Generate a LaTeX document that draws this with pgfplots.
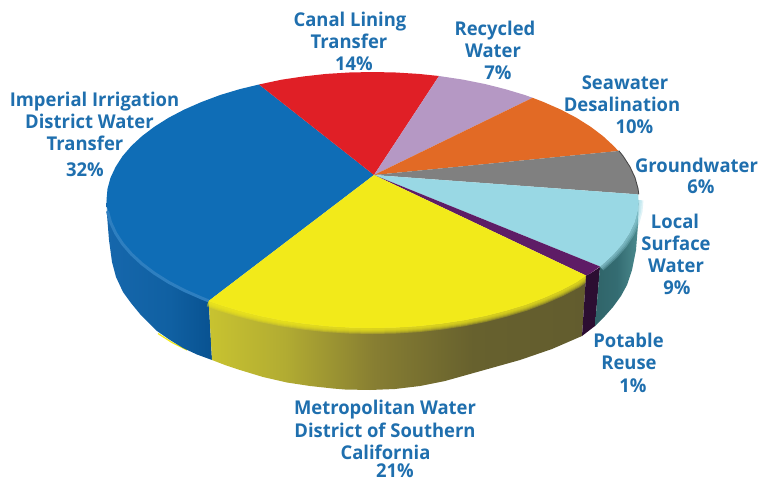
\documentclass[border=0pt]{standalone}
\usepackage{fontspec}
\setmainfont{Open Sans}[FakeStretch=0.97]
\usepackage{pgfplots}
\pgfplotsset{compat=1.18}

\definecolor{cblue}{RGB}{15,109,182}
\definecolor{cblue2}{RGB}{46,127,192}
\definecolor{cred}{RGB}{224,31,38}
\definecolor{clilac}{RGB}{181,152,196}
\definecolor{corange}{RGB}{226,106,37}
\definecolor{cgray}{RGB}{128,128,128}
\definecolor{clight}{RGB}{153,216,228}
\definecolor{cpurple}{RGB}{94,28,102}
\definecolor{cyellow}{RGB}{242,234,26}
\definecolor{ctext}{RGB}{31,111,174}
\definecolor{sb1}{RGB}{22,103,172}
\definecolor{sb2}{RGB}{16,96,162}
\definecolor{sb3}{RGB}{8,82,145}
\definecolor{sy1}{RGB}{200,195,48}
\definecolor{sy2}{RGB}{178,172,50}
\definecolor{sy3}{RGB}{135,126,50}
\definecolor{sy4}{RGB}{103,97,46}
\definecolor{sy5}{RGB}{98,92,46}
\definecolor{st1}{RGB}{48,100,105}
\definecolor{st2}{RGB}{52,108,114}
\definecolor{st3}{RGB}{75,138,142}

% stops sit between 25bp and 75bp, which is what gets stretched over the path
\pgfdeclarehorizontalshading{sideblue}{100bp}{
  color(0bp)=(sb1); color(25bp)=(sb1); color(55bp)=(sb2); color(75bp)=(sb3); color(100bp)=(sb3)}
\pgfdeclarehorizontalshading{sideyellow}{100bp}{
  color(0bp)=(sy1); color(25bp)=(sy1); color(35bp)=(sy2); color(47bp)=(sy3);
  color(60bp)=(sy4); color(75bp)=(sy5); color(100bp)=(sy5)}
\pgfdeclarehorizontalshading{sideteal}{100bp}{
  color(0bp)=(st1); color(25bp)=(st1); color(50bp)=(st2); color(75bp)=(st3); color(100bp)=(st3)}

\newcommand{\lab}[2]{\node[anchor=base,text=ctext,font=\fontsize{19}{19}\selectfont\bfseries,inner sep=0pt] at (axis cs:#1) {#2};}

\begin{document}
\begin{tikzpicture}
% a hidden axis adds nothing to the bounding box
\path[use as bounding box] (0,0) rectangle (758pt,482pt);
\begin{axis}[
  scale only axis,
  width=758pt,
  height=482pt,
  xmin=0, xmax=758,
  ymin=0, ymax=482,
  y dir=reverse,
  axis lines=none,
  clip=false,
]
% sides
\addplot[draw=cyellow,line width=1.2pt] coordinates {(158,333.5) (172,342.5) (187,350)};
\addplot[draw=none,shade,shading=sideblue] coordinates {
  (208.7,300.9) (201.5,298) (184.4,290.5) (168.7,282.3) (154.6,273.4) (142.1,264)
  (131.4,254.1) (122.5,243.8) (115.6,233.1) (110.5,222.2) (107.5,211.2) (106.5,200)
  (107,215) (109,240) (112,262) (116,277) (123,292) (131,303) (140,314) (157,331)
  (170,340) (183,348) (197,354.5) (212,360)} --cycle;
\addplot[draw=none,shade,shading=sideyellow] coordinates {
  (208.7,300.9) (219.9,304.9) (239.5,310.8) (260.1,316) (281.5,320.3) (303.7,323.6)
  (326.3,326.1) (349.3,327.5) (372.5,328) (395.7,327.5) (418.7,326.1) (441.3,323.6)
  (463.5,320.3) (484.9,316) (505.5,310.8) (525.1,304.9) (543.5,298) (560.6,290.5)
  (576.3,282.3) (586,275.5)
  (582,336) (552,349) (520,360) (495,367) (470,374) (445,381) (420,386) (395,389)
  (370,390) (345,389.5) (333,388.5) (310,386) (287,382.5) (263,377) (240,370)
  (225,365) (212,360)} --cycle;
% soft edge where the yellow top meets its side, stacked strokes
\pgfplotsinvokeforeach{12,10,8,6,4}{
\addplot[draw=cyellow,opacity=.28,line width=#1pt] coordinates {
  (208.7,300.9) (219.9,304.9) (239.5,310.8) (260.1,316) (281.5,320.3) (303.7,323.6)
  (326.3,326.1) (349.3,327.5) (372.5,328) (395.7,327.5) (418.7,326.1) (441.3,323.6)
  (463.5,320.3) (484.9,316) (505.5,310.8) (525.1,304.9) (543.5,298) (560.6,290.5)
  (576.3,282.3) (586,275.5)};
}
\addplot[draw=none,fill={rgb,255:red,44;green,14;blue,50}] coordinates {
  (586,275.5) (590.4,273.4) (600,267) (595,326) (582,336)} --cycle;
\addplot[draw=none,shade,shading=sideteal] coordinates {
  (600,266.5) (602.9,264) (613.6,254.1) (622.5,243.8) (629.4,233.1) (634.5,222.2)
  (637.5,211.2) (638.5,200)
  (638.5,205) (638,225) (636,250) (632,270) (627,285) (621,296) (613,307) (605,316) (595,326)} --cycle;
\pgfplotsinvokeforeach{10,7,4}{
\addplot[draw=clight,opacity=.3,line width=#1pt] coordinates {
  (600,266.5) (602.9,264) (613.6,254.1) (622.5,243.8) (629.4,233.1) (634.5,222.2)
  (637.5,211.2) (638.5,200)};
}
% dark rim on the far right of the grey slice
\addplot[draw={rgb,255:red,70;green,70;blue,70},line width=2pt] coordinates {
  (618.3,151) (622.5,156.2) (629.4,166.9) (634.5,177.8) (637.5,188.8) (638.2,194.4)};
% top face
\addplot[draw=none,fill=cblue] coordinates {
  (374,175) (208.7,300.9) (201.5,298) (184.4,290.5) (168.7,282.3) (154.6,273.4) (142.1,264)
  (131.4,254.1) (122.5,243.8) (115.6,233.1) (110.5,222.2) (107.5,211.2) (106.5,200)
  (107.5,188.8) (110.5,177.8) (115.6,166.9) (122.5,156.2) (131.4,145.9) (142.1,136)
  (154.6,126.6) (168.7,117.7) (184.4,109.5) (201.5,102) (219.9,95.1) (239.5,89.2) (259,84.5)} --cycle;
\addplot[draw=none,fill=cred] coordinates {
  (374,175) (259,84.5) (281.5,79.7) (303.7,76.4) (326.3,73.9) (349.3,72.5) (372.5,72)
  (395.7,72.5) (418.7,73.9) (439,76)} --cycle;
\addplot[draw=none,fill=clilac] coordinates {
  (374,175) (439,76) (463.5,79.7) (484.9,84) (505.5,89.2) (525.1,95.1) (532.6,97.8)} --cycle;
\addplot[draw=none,fill=corange] coordinates {
  (374,175) (532.6,97.8) (543.5,102) (560.6,109.5) (576.3,117.7) (590.4,126.6) (602.9,136)
  (613.6,145.9) (618.3,151)} --cycle;
\addplot[draw=none,fill=cgray] coordinates {
  (374,175) (618.3,151) (622.5,156.2) (629.4,166.9) (634.5,177.8) (637.5,188.8) (638.2,194.4)} --cycle;
\addplot[draw=none,fill=clight] coordinates {
  (374,175) (638.2,194.4) (638.5,200) (637.5,211.2) (634.5,222.2) (629.4,233.1) (622.5,243.8)
  (613.6,254.1) (602.9,264) (600,266.5)} --cycle;
\addplot[draw=none,fill=cpurple] coordinates {
  (374,175) (600,266.5) (590.4,273.4) (586,275.5)} --cycle;
\addplot[draw=none,fill=cyellow] coordinates {
  (374,175) (586,275.5) (576.3,282.3) (560.6,290.5) (543.5,298) (525.1,304.9) (505.5,310.8)
  (484.9,316) (463.5,320.3) (441.3,323.6) (418.7,326.1) (395.7,327.5) (372.5,328)
  (349.3,327.5) (326.3,326.1) (303.7,323.6) (281.5,320.3) (260.1,316) (239.5,310.8)
  (219.9,304.9) (208.7,300.9)} --cycle;
% lighter band along the blue front edge
\addplot[draw=cblue2,line width=3pt] coordinates {
  (208.7,300.9) (201.5,298) (184.4,290.5) (168.7,282.3) (154.6,273.4) (142.1,264)
  (131.4,254.1) (122.5,243.8) (115.6,233.1) (110.5,222.2) (107.5,211.2)};

% labels, placed by baseline
\lab{94.5,106}{Imperial Irrigation}
\lab{89.5,128}{District Water}
\lab{85,150}{Transfer}
\lab{85,176}{32\%}
\lab{350,26}{Canal Lining}
\lab{349,48}{Transfer}
\lab{354,70}{14\%}
\lab{495,35}{Recycled}
\lab{493,57}{Water}
\lab{498,79}{7\%}
\lab{625,89}{Seawater}
\lab{622,111}{Desalination}
\lab{634.5,133}{10\%}
\lab{696.5,172}{Groundwater}
\lab{701,193}{6\%}
\lab{675,228}{Local}
\lab{676,250}{Surface}
\lab{676,272}{Water}
\lab{677,294}{9\%}
\lab{628.5,347}{Potable}
\lab{629,369}{Reuse}
\lab{633,392}{1\%}
\lab{385,414}{Metropolitan Water}
\lab{385,437}{District of Southern}
\lab{385.5,459}{California}
\lab{395,477}{21\%}
\end{axis}
\end{tikzpicture}
\end{document}
